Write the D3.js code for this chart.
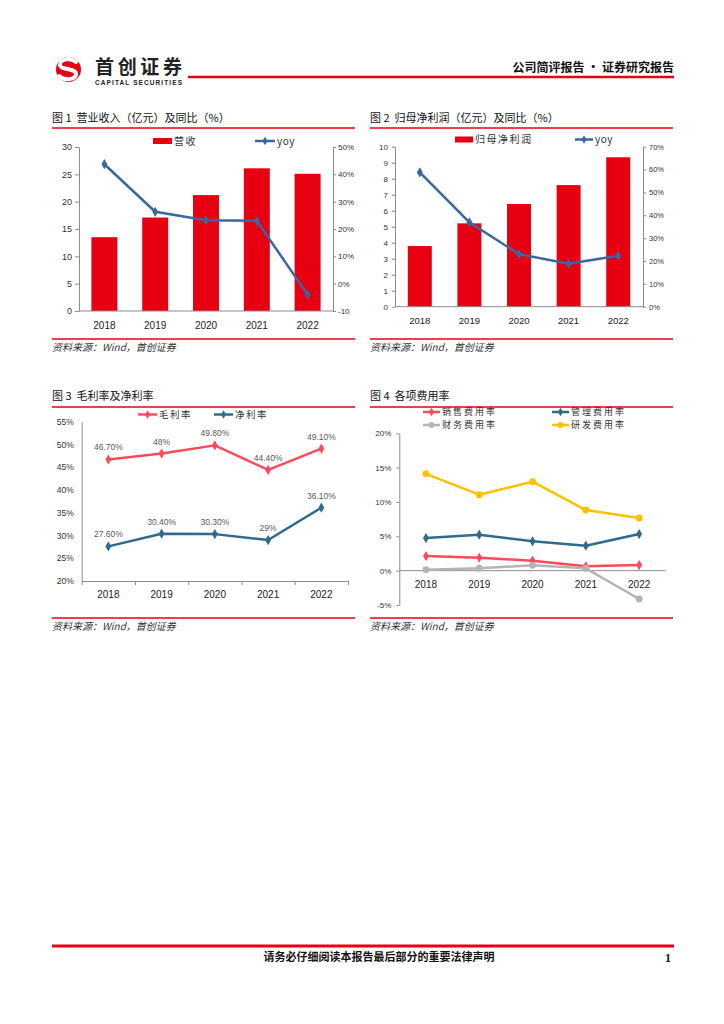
<!DOCTYPE html>
<html><head><meta charset="utf-8">
<script src="https://cdn.jsdelivr.net/npm/d3@7"></script>
<style>
body{margin:0;background:#fff;}
svg text{font-family:"Liberation Sans","Noto Sans CJK SC",sans-serif;white-space:pre;}
</style></head><body>
<svg id="c" width="724" height="1024"></svg>
<script>
// ---------- data ----------
const years = ["2018","2019","2020","2021","2022"];
const revenue = [13.5, 17.1, 21.2, 26.1, 25.1];
const revenueYoy = [43.7, 26.3, 23.2, 23.0, -4.0];
const netProfit = [3.79, 5.21, 6.42, 7.60, 9.34];
const netProfitYoy = [58.8, 36.9, 23.0, 18.8, 22.3];
const grossMargin = [46.7, 48.0, 49.8, 44.4, 49.1];
const grossMarginLabels = ["46.70%","48%","49.80%","44.40%","49.10%"];
const netMargin = [27.6, 30.4, 30.3, 29.0, 36.1];
const netMarginLabels = ["27.60%","30.40%","30.30%","29%","36.10%"];
const sellingRate = [2.13, 1.89, 1.45, 0.63, 0.82];
const adminRate = [4.75, 5.24, 4.27, 3.64, 5.33];
const financeRate = [0.15, 0.34, 0.77, 0.34, -4.13];
const rdRate = [14.1, 11.06, 12.95, 8.82, 7.66];
const c1LeftTicks = [0,5,10,15,20,25,30];
const c1RightTicks = [-10,0,10,20,30,40,50];
const c2LeftTicks = [0,1,2,3,4,5,6,7,8,9,10];
const c2RightTicks = [0,10,20,30,40,50,60,70];
const c3Ticks = [20,25,30,35,40,45,50,55];
const c4Ticks = [-5,0,5,10,15,20];

const RED="#E60012", BLUE="#3A67A0", PINK="#FF4A5C", TEAL="#2F6B8C", GRAY="#B4B4B4", YELLOW="#FFC000", AX="#8C8C8C";
const CJK = '"Noto Sans CJK SC",sans-serif';

const svg = d3.select("#c");

// ---------- header ----------
const logo = svg.append("g");
logo.append("circle").attr("cx",68.5).attr("cy",69.5).attr("r",12.5).attr("fill","#E60012");
logo.append("path").attr("d","M76,62 C70,57 60,59 60,65 C60,70 76,68 76,74 C76,80 64,81 59,76")
  .attr("fill","none").attr("stroke","#fff").attr("stroke-width",4).attr("stroke-linecap","round");
svg.append("text").attr("x",95).attr("y",74).attr("font-size",19).attr("font-weight",700)
  .style("font-family",CJK).attr("fill","#222").attr("textLength",87).text("首创证券");
svg.append("text").attr("x",95).attr("y",85).attr("font-size",6.5).attr("font-weight",700)
  .attr("fill","#222").attr("textLength",87).text("CAPITAL SECURITIES");
svg.append("line").attr("x1",188).attr("x2",674).attr("y1",77).attr("y2",77).attr("stroke",RED).attr("stroke-width",2.5);
svg.append("text").attr("x",674).attr("y",72).attr("text-anchor","end").attr("font-size",12).attr("font-weight",700)
  .style("font-family",CJK).attr("fill","#111").text("公司简评报告 · 证券研究报告");

// ---------- footer ----------
svg.append("line").attr("x1",52).attr("x2",674).attr("y1",946).attr("y2",946).attr("stroke",RED).attr("stroke-width",3);
svg.append("text").attr("x",379).attr("y",961).attr("text-anchor","middle").attr("font-size",11).attr("font-weight",700)
  .style("font-family",CJK).attr("fill","#111").text("请务必仔细阅读本报告最后部分的重要法律声明");
svg.append("text").attr("x",671).attr("y",962).attr("text-anchor","end").attr("font-size",12).attr("font-weight",700)
  .style("font-family","'Liberation Serif',serif").attr("fill","#111").text("1");

// ---------- common helpers ----------
function frame(x0, x1, titleY, title, lineY, srcLineY, srcY){
  svg.append("text").attr("x",x0).attr("y",titleY).attr("font-size",11).style("font-family",CJK).attr("fill","#111").text(title);
  svg.append("line").attr("x1",x0).attr("x2",x1).attr("y1",lineY).attr("y2",lineY).attr("stroke",RED).attr("stroke-width",1.5);
  svg.append("line").attr("x1",x0).attr("x2",x1).attr("y1",srcLineY).attr("y2",srcLineY).attr("stroke",RED).attr("stroke-width",1.5);
  svg.append("text").attr("x",x0).attr("y",srcY).attr("font-size",10).attr("font-style","italic")
    .style("font-family",CJK).attr("fill","#333").text("资料来源：Wind，首创证券");
}
function styleAxis(g, fs){
  g.select(".domain").attr("stroke",AX);
  g.selectAll(".tick line").attr("stroke",AX);
  g.selectAll(".tick text").attr("fill","#333").attr("font-size",fs).style("font-family","'Liberation Sans',sans-serif");
}
const diamond = d3.symbol(d3.symbolDiamond, 30);
const circ = d3.symbol(d3.symbolCircle, 38);
function drawLine(g, xs, ys, vals, color, sym, w){
  const line = d3.line().x((d,i)=>xs(years[i])).y(d=>ys(d));
  g.append("path").datum(vals).attr("d",line).attr("fill","none").attr("stroke",color).attr("stroke-width",w||2.5).attr("stroke-linejoin","round");
  g.selectAll(null).data(vals).enter().append("path").attr("d",sym)
    .attr("transform",(d,i)=>`translate(${xs(years[i])},${ys(d)})`).attr("fill",color);
}
function catLabels(xs, y, fs){
  svg.append("g").selectAll("text").data(years).enter().append("text")
    .attr("x",d=>xs(d)).attr("y",y).attr("text-anchor","middle").attr("dominant-baseline","central")
    .attr("font-size",fs).attr("fill","#222").text(d=>d);
}
function legendItem(x, y, len, color, sym, label, fs, rect, ls){
  const g = svg.append("g");
  if(rect){
    g.append("rect").attr("x",x).attr("y",y-3).attr("width",len).attr("height",6).attr("fill",color);
  } else {
    g.append("line").attr("x1",x).attr("x2",x+len).attr("y1",y).attr("y2",y).attr("stroke",color).attr("stroke-width",2.5);
    g.append("path").attr("d",sym).attr("transform",`translate(${x+len/2},${y})`).attr("fill",color);
  }
  g.append("text").attr("x",x+len+2).attr("y",y+fs*0.36).attr("font-size",fs)
    .attr("letter-spacing",ls==null?1:ls).style("font-family",CJK).attr("fill","#333").text(label);
}

// ---------- chart 1 ----------
frame(52, 355, 122, "图 1  营业收入（亿元）及同比（%）", 128, 339, 351);
{
  const x = d3.scaleBand().domain(years).range([79,333]);
  const xc = d => x(d) + x.bandwidth()/2;
  const y = d3.scaleLinear().domain([0,30]).range([311,147]);
  const yr = d3.scaleLinear().domain([-10,50]).range([311,147]);
  const bw = 26;
  svg.append("g").selectAll("rect").data(revenue).enter().append("rect")
    .attr("x",(d,i)=>xc(years[i])-bw/2).attr("width",bw).attr("y",d=>y(d)).attr("height",d=>y(0)-y(d)).attr("fill",RED);
  const gl = svg.append("g").attr("transform","translate(79,0)")
    .call(d3.axisLeft(y).tickValues(c1LeftTicks).tickSize(4).tickSizeOuter(0).tickPadding(3));
  styleAxis(gl, 9);
  const gr = svg.append("g").attr("transform","translate(333,0)")
    .call(d3.axisRight(yr).tickValues(c1RightTicks).tickSize(3).tickSizeOuter(0).tickPadding(2)
      .tickFormat(d=> d<0 ? String(d) : d+"%"));
  styleAxis(gr, 8);
  svg.append("line").attr("x1",79).attr("x2",333).attr("y1",311).attr("y2",311).attr("stroke",AX);
  catLabels(xc, 325, 10);
  drawLine(svg.append("g"), xc, yr, revenueYoy, BLUE, diamond, 2.5);
  legendItem(153, 141, 19, RED, null, "营收", 10, true, 1.5);
  legendItem(255, 141, 20, BLUE, d3.symbol(d3.symbolDiamond,22), "yoy", 10, false, 0.5);
}

// ---------- chart 2 ----------
frame(370, 673, 122, "图 2  归母净利润（亿元）及同比（%）", 128, 339, 351);
{
  const x = d3.scaleBand().domain(years).range([395,643]);
  const xc = d => x(d) + x.bandwidth()/2;
  const y = d3.scaleLinear().domain([0,10]).range([306.7,146.7]);
  const yr = d3.scaleLinear().domain([0,70]).range([306.7,146.7]);
  const bw = 24;
  svg.append("g").selectAll("rect").data(netProfit).enter().append("rect")
    .attr("x",(d,i)=>xc(years[i])-bw/2).attr("width",bw).attr("y",d=>y(d)).attr("height",d=>y(0)-y(d)).attr("fill",RED);
  const gl = svg.append("g").attr("transform","translate(395,0)")
    .call(d3.axisLeft(y).tickValues(c2LeftTicks).tickSize(3).tickSizeOuter(0).tickPadding(4));
  styleAxis(gl, 8);
  const gr = svg.append("g").attr("transform","translate(643,0)")
    .call(d3.axisRight(yr).tickValues(c2RightTicks).tickSize(3).tickSizeOuter(0).tickPadding(3).tickFormat(d=>d+"%"));
  styleAxis(gr, 7.5);
  svg.append("line").attr("x1",395).attr("x2",643).attr("y1",306.7).attr("y2",306.7).attr("stroke",AX);
  catLabels(xc, 320, 9.5);
  drawLine(svg.append("g"), xc, yr, netProfitYoy, BLUE, diamond, 2.5);
  legendItem(455, 139.5, 18, RED, null, "归母净利润", 10, true, 1.5);
  legendItem(575, 139.5, 18, BLUE, d3.symbol(d3.symbolDiamond,22), "yoy", 10, false, 0.5);
}

// ---------- chart 3 ----------
frame(52, 355, 400, "图 3  毛利率及净利率", 407, 618, 630);
{
  const x = d3.scaleBand().domain(years).range([81.7,348]);
  const xc = d => x(d) + x.bandwidth()/2;
  const y = d3.scaleLinear().domain([20,55]).range([581,421.7]);
  const gl = svg.append("g").attr("transform","translate(81.7,0)")
    .call(d3.axisLeft(y).tickValues(c3Ticks).tickSize(0).tickPadding(8).tickFormat(d=>d+"%"));
  styleAxis(gl, 8.5);
  const gb = svg.append("g").attr("transform","translate(0,581)")
    .call(d3.axisBottom(d3.scaleLinear().domain([0,5]).range([81.7,348])).tickValues([0,1,2,3,4,5]).tickSize(4).tickSizeOuter(0).tickFormat(""));
  styleAxis(gb, 9);
  catLabels(xc, 594.5, 10);
  drawLine(svg.append("g"), xc, y, grossMargin, PINK, diamond, 2.5);
  drawLine(svg.append("g"), xc, y, netMargin, TEAL, diamond, 2.5);
  const lab = svg.append("g").attr("font-size",8.5).attr("fill","#595959").attr("text-anchor","middle");
  lab.selectAll(null).data(grossMargin).enter().append("text")
    .attr("x",(d,i)=>xc(years[i])).attr("y",d=>y(d)-9).text((d,i)=>grossMarginLabels[i]);
  lab.selectAll(null).data(netMargin).enter().append("text")
    .attr("x",(d,i)=>xc(years[i])).attr("y",d=>y(d)-9).text((d,i)=>netMarginLabels[i]);
  legendItem(138, 414.5, 19, PINK, d3.symbol(d3.symbolDiamond,22), "毛利率", 9.5, false, 1.5);
  legendItem(214, 414.5, 19, TEAL, d3.symbol(d3.symbolDiamond,22), "净利率", 9.5, false, 1.5);
}

// ---------- chart 4 ----------
frame(370, 673, 400, "图 4  各项费用率", 407, 618, 630);
{
  const x = d3.scaleBand().domain(years).range([399.3,665.8]);
  const xc = d => x(d) + x.bandwidth()/2;
  const y = d3.scaleLinear().domain([-5,20]).range([605,433.3]);
  const gl = svg.append("g").attr("transform","translate(399.3,0)")
    .call(d3.axisLeft(y).tickValues(c4Ticks).tickSize(3).tickSizeOuter(0).tickPadding(5).tickFormat(d=>d+"%"));
  styleAxis(gl, 8);
  svg.append("line").attr("x1",399.3).attr("x2",665.8).attr("y1",y(0)).attr("y2",y(0)).attr("stroke",AX);
  catLabels(xc, 584.5, 10);
  drawLine(svg.append("g"), xc, y, rdRate, YELLOW, circ, 2.5);
  drawLine(svg.append("g"), xc, y, adminRate, TEAL, diamond, 2.5);
  drawLine(svg.append("g"), xc, y, sellingRate, PINK, diamond, 2.5);
  drawLine(svg.append("g"), xc, y, financeRate, GRAY, circ, 2.5);
  legendItem(423, 412, 17, PINK, d3.symbol(d3.symbolDiamond,22), "销售费用率", 9, false, 2);
  legendItem(552, 412, 17, TEAL, d3.symbol(d3.symbolDiamond,22), "管理费用率", 9, false, 2);
  legendItem(423, 425, 17, GRAY, d3.symbol(d3.symbolCircle,26), "财务费用率", 9, false, 2);
  legendItem(552, 425, 17, YELLOW, d3.symbol(d3.symbolCircle,26), "研发费用率", 9, false, 2);
}
</script></body></html>
